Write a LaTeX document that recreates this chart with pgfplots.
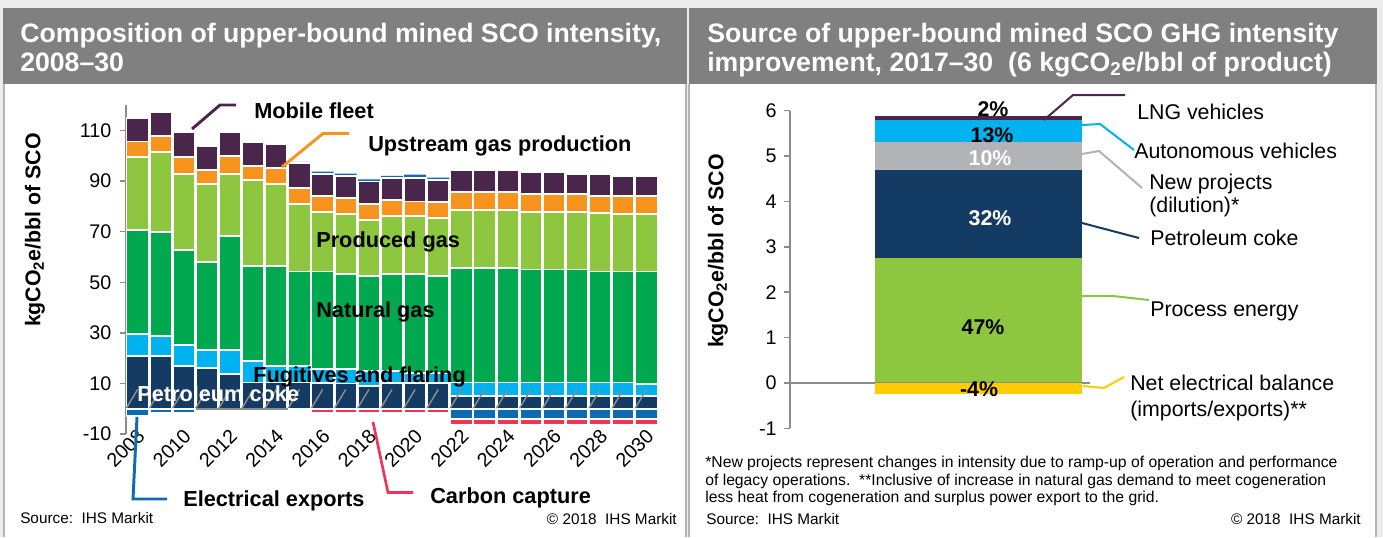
\documentclass[border=0pt]{standalone}
\usepackage{fontspec}
\setmainfont{Liberation Sans}
\usepackage{pgfplots}
\usepackage{pgfplotstable}
\pgfplotsset{compat=1.18}

\definecolor{cnavy}{HTML}{143B63}
\definecolor{clblue}{HTML}{00B2EF}
\definecolor{cngreen}{HTML}{00A94F}
\definecolor{clgreen}{HTML}{8DC63F}
\definecolor{corange}{HTML}{F7941E}
\definecolor{cpurple}{HTML}{4A254C}
\definecolor{cblue}{HTML}{0F6AB4}
\definecolor{cred}{HTML}{EC3557}
\definecolor{cgray}{HTML}{B2B3B6}
\definecolor{cyellow}{HTML}{FFCC00}
\definecolor{caxis}{HTML}{8C8C8C}
\definecolor{chead}{HTML}{808080}
\definecolor{cbg}{HTML}{ECECEC}
\definecolor{cborder}{HTML}{B4B4B4}

% positive segments of the left chart (k = year - 2008)
\pgfplotstableread{
k coke fug nat prod up mob ep
0 21.0 8.6 41.1 28.7 6.2 9.2 0
1 21.0 7.8 41.1 31.7 6.2 9.5 0
2 16.9 8.3 37.6 30.0 6.6 10.0 0
3 16.0 7.2 34.9 30.8 5.5 9.5 0
4 13.8 9.4 45.1 24.5 7.1 9.5 0
5 10.4 8.6 37.4 34.0 5.6 9.5 0
6 10.4 6.4 39.6 32.5 6.2 9.6 0
7 10.4 6.4 37.4 26.7 6.3 9.8 0.6
8 10.2 5.6 38.4 23.6 6.3 8.7 0.9
9 10.0 5.8 37.5 23.7 6.4 8.6 0.9
10 8.9 5.9 37.7 22.1 6.3 8.9 0.9
11 10.2 4.6 38.5 22.9 6.3 8.6 0.9
12 10.2 3.9 39.2 22.9 5.7 9.4 1.2
13 10.2 3.9 38.4 22.8 6.5 8.6 1.0
14 5.1 5.3 45.2 23.0 7.2 8.6 0
15 5.1 5.3 45.2 23.0 7.2 8.6 0
16 5.1 5.3 45.2 23.0 7.2 8.6 0
17 5.1 5.3 44.6 22.7 7.3 8.6 0
18 5.1 5.3 44.6 22.7 7.3 8.6 0
19 5.1 5.3 44.6 22.7 7.2 7.9 0
20 5.1 5.3 43.8 23.2 6.7 8.7 0
21 5.1 5.3 43.8 22.8 7.1 7.9 0
22 5.1 4.8 44.3 22.8 7.1 7.9 0
}\posdata

% negative segments of the left chart
\pgfplotstableread{
k elec ccs
0 -2.8 0
1 -1.6 0
2 -1.6 0
3 0 0
4 0 0
5 0 0
6 0 0
7 0 -0.4
8 0 -1.8
9 0 -1.8
10 0 -1.8
11 0 -1.8
12 0 -1.8
13 0 -1.8
14 -4.1 -2.3
15 -4.1 -2.3
16 -4.1 -2.3
17 -4.1 -2.3
18 -4.1 -2.3
19 -4.1 -2.3
20 -4.1 -2.3
21 -4.1 -2.3
22 -4.1 -2.3
}\negdata

\pgfplotsset{
  chartbase/.style={
    scale only axis, anchor=south west,
    axis y line*=left, axis x line*=bottom,
    x axis line style={draw=none},
    y axis line style={draw=caxis, line width=1.1pt},
    ytick style={draw=caxis, line width=1.1pt},
    xtick style={draw=none},
    tick align=outside, major tick length=4.5pt,
    ticklabel style={font=\fontsize{14.8}{16}\selectfont, text=black},
    ybar stacked,
  },
  overlaybase/.style={scale only axis, anchor=south west, hide axis, ybar stacked},
}

\begin{document}
\begin{tikzpicture}
\tikzset{px/.style={x=0.75pt,y=-0.75pt,yshift=402.75pt}}
\path[use as bounding box, fill=cbg] (0,0) rectangle (1037.25pt,402.75pt);

\begin{scope}[px]
  % panels
  \fill[white] (4,84) rectangle (686,537);
  \draw[cborder, line width=1.2pt] (4,84) -- (4,537) (686,84) -- (686,537);
  \fill[chead] (3,8) rectangle (687,84);
  \fill[white] (689,84) rectangle (1376,537);
  \draw[cborder, line width=1.2pt] (689,84) -- (689,537) (1376,84) -- (1376,537);
  \fill[chead] (689,8) rectangle (1377,84);
  % titles
  \begin{scope}[every node/.style={anchor=base west, text=white, font=\bfseries\fontsize{20}{22}\selectfont, inner sep=0pt}]
    \node at (20,43) {Composition of upper-bound mined SCO intensity,};
    \node at (20,71) {2008–30};
    \node at (707,43) {Source of upper-bound mined SCO GHG intensity};
    \node at (707,71) {improvement, 2017–30\ \ (6 kgCO\textsubscript{2}e/bbl of product)};
  \end{scope}
\end{scope}

% ================= LEFT CHART =================
\begin{axis}[chartbase,
  at={(94.5pt,77.2pt)}, width=399pt, height=246.7pt,
  xmin=-0.5, xmax=22.5, ymin=-10, ymax=120,
  ytick={-10,10,30,50,70,90,110},
  yticklabels={-10,10,30,50,70,90,110},
  yticklabel style={xshift=-3pt},
  xtick={0,2,...,22},
  xticklabels={2008,2010,2012,2014,2016,2018,2020,2022,2024,2026,2028,2030},
  xticklabel style={yshift=9.5pt, xshift=-1pt, rotate=45, anchor=north east, inner sep=0pt},
  bar width=0.95,
  every axis plot/.append style={draw=white, line width=1.3pt},
]
\addplot[fill=cnavy] table[x=k,y=coke]{\posdata};
\addplot[fill=clblue] table[x=k,y=fug]{\posdata};
\addplot[fill=cngreen] table[x=k,y=nat]{\posdata};
\addplot[fill=clgreen] table[x=k,y=prod]{\posdata};
\addplot[fill=corange] table[x=k,y=up]{\posdata};
\addplot[fill=cpurple] table[x=k,y=mob]{\posdata};
\addplot[fill=cblue, draw=none] table[x=k,y=ep]{\posdata};
\end{axis}

\begin{axis}[overlaybase,
  at={(94.5pt,77.2pt)}, width=399pt, height=246.7pt,
  xmin=-0.5, xmax=22.5, ymin=-10, ymax=120,
  bar width=0.95,
  every axis plot/.append style={draw=white, line width=1.3pt},
]
\addplot[fill=cblue] table[x=k,y=elec]{\negdata};
\addplot[fill=cred] table[x=k,y=ccs]{\negdata};
\draw[caxis, line width=1.1pt] (axis cs:-0.5,0) -- (axis cs:22.5,0);
\pgfplotsinvokeforeach{-0.5,0.5,...,22.5}{\draw[caxis, line width=1.1pt] (axis cs:#1,0) -- ++(0,-4.5pt);}
\end{axis}

% ================= RIGHT CHART =================
\begin{axis}[chartbase,
  at={(592.5pt,81.45pt)}, width=225pt, height=238.35pt,
  xmin=-0.9106, xmax=0.5387, ymin=-1, ymax=6,
  ytick={-1,0,1,2,3,4,5,6},
  yticklabels={-1,0,1,2,3,4,5,6},
  yticklabel style={xshift=-2pt},
  xtick=\empty,
  bar width=1,
  every axis plot/.append style={draw=none},
]
\addplot[fill=clgreen] coordinates {(0,2.76)};
\addplot[fill=cnavy] coordinates {(0,1.93)};
\addplot[fill=cgray] coordinates {(0,0.62)};
\addplot[fill=clblue] coordinates {(0,0.48)};
\addplot[fill=cpurple] coordinates {(0,0.09)};
\end{axis}

\begin{axis}[overlaybase,
  at={(592.5pt,81.45pt)}, width=225pt, height=238.35pt,
  xmin=-0.9106, xmax=0.5387, ymin=-1, ymax=6,
  bar width=1,
  every axis plot/.append style={draw=none},
]
\addplot[fill=cyellow] coordinates {(0,-0.24)};
\draw[caxis, line width=1.1pt] (axis cs:-0.9106,0) -- (axis cs:0.5387,0);
\end{axis}

% ================= ANNOTATIONS =================
\begin{scope}[px]
  % right chart percentage labels
  \begin{scope}[every node/.style={inner sep=0pt, font=\bfseries\fontsize{16}{18}\selectfont}]
    \node at (993,109) {2\%};
    \node at (992,135) {13\%};
    \node[text=white] at (990,158) {10\%};
    \node[text=white] at (990,218) {32\%};
    \node at (983,327) {47\%};
    \node at (979,389) {-4\%};
  \end{scope}
  % left y label
  \node[rotate=90, font=\bfseries\fontsize{16}{18}\selectfont] at (35,230) {kgCO\textsubscript{2}e/bbl of SCO};
  % left leaders
  \draw[cpurple, line width=2.2pt] (192,129) -- (220,105) -- (236,105);
  \draw[corange, line width=2.2pt] (282,167) -- (323,133.5) -- (349,133.5);
  \draw[cblue, line width=2.2pt] (137,417) -- (133,499) -- (167,499);
  \draw[cred, line width=2pt] (373,422) -- (388,492.5) -- (413,492.5);
  % left labels
  \begin{scope}[every node/.style={anchor=base west, inner sep=0pt, font=\bfseries\fontsize{16.3}{18}\selectfont}]
    \node at (254,118) {Mobile fleet};
    \node at (368,151) {Upstream gas production};
    \node at (316,247) {Produced gas};
    \node at (316,317) {Natural gas};
    \node at (253,382) {Fugitives and flaring};
    \node[text=white] at (137,401) {Petroleum coke};
    \node at (183,506) {Electrical exports};
    \node at (430,503) {Carbon capture};
  \end{scope}
  \node[anchor=base west, inner sep=0pt, font=\fontsize{11.5}{13}\selectfont] at (20,523) {Source:\ \ IHS Markit};
  \node[anchor=base east, inner sep=0pt, font=\fontsize{11.5}{13}\selectfont] at (677,524) {© 2018\ \ IHS Markit};

  % right y label
  \node[rotate=90, font=\bfseries\fontsize{16}{18}\selectfont] at (718,251) {kgCO\textsubscript{2}e/bbl of SCO};
  % right leaders
  \draw[cpurple, line width=1.5pt] (1044,120) -- (1073,95) -- (1125,95);
  \draw[clblue, line width=1.5pt] (1082,125) -- (1100,124) -- (1134,150);
  \draw[cgray, line width=1.5pt] (1082,154) -- (1099,151) -- (1142,188);
  \draw[cnavy, line width=1.5pt] (1082,223) -- (1139,238);
  \draw[clgreen, line width=1.5pt] (1082,296) -- (1113,296) -- (1149,300);
  \draw[cyellow, line width=1.5pt] (1083,386) -- (1104,388) -- (1124,377);
  % right labels
  \begin{scope}[every node/.style={anchor=base west, inner sep=0pt, font=\fontsize{16}{18}\selectfont}]
    \node at (1137,119) {LNG vehicles};
    \node at (1134,158) {Autonomous vehicles};
    \node at (1149,189) {New projects};
    \node at (1149,212) {(dilution)*};
    \node at (1150,245) {Petroleum coke};
    \node at (1150,316) {Process energy};
    \node at (1130,390) {Net electrical balance};
    \node at (1130,416) {(imports/exports)**};
  \end{scope}
  \begin{scope}[every node/.style={anchor=base west, inner sep=0pt, font=\fontsize{11.8}{13}\selectfont}]
    \node at (705,467) {*New projects represent changes in intensity due to ramp-up of operation and performance};
    \node at (705,485) {of legacy operations.\ \ **Inclusive of increase in natural gas demand to meet cogeneration};
    \node at (705,502) {less heat from cogeneration and surplus power export to the grid.};
  \end{scope}
  \node[anchor=base west, inner sep=0pt, font=\fontsize{11.5}{13}\selectfont] at (706,524) {Source:\ \ IHS Markit};
  \node[anchor=base east, inner sep=0pt, font=\fontsize{11.5}{13}\selectfont] at (1361,524) {© 2018\ \ IHS Markit};
\end{scope}
\end{tikzpicture}
\end{document}
